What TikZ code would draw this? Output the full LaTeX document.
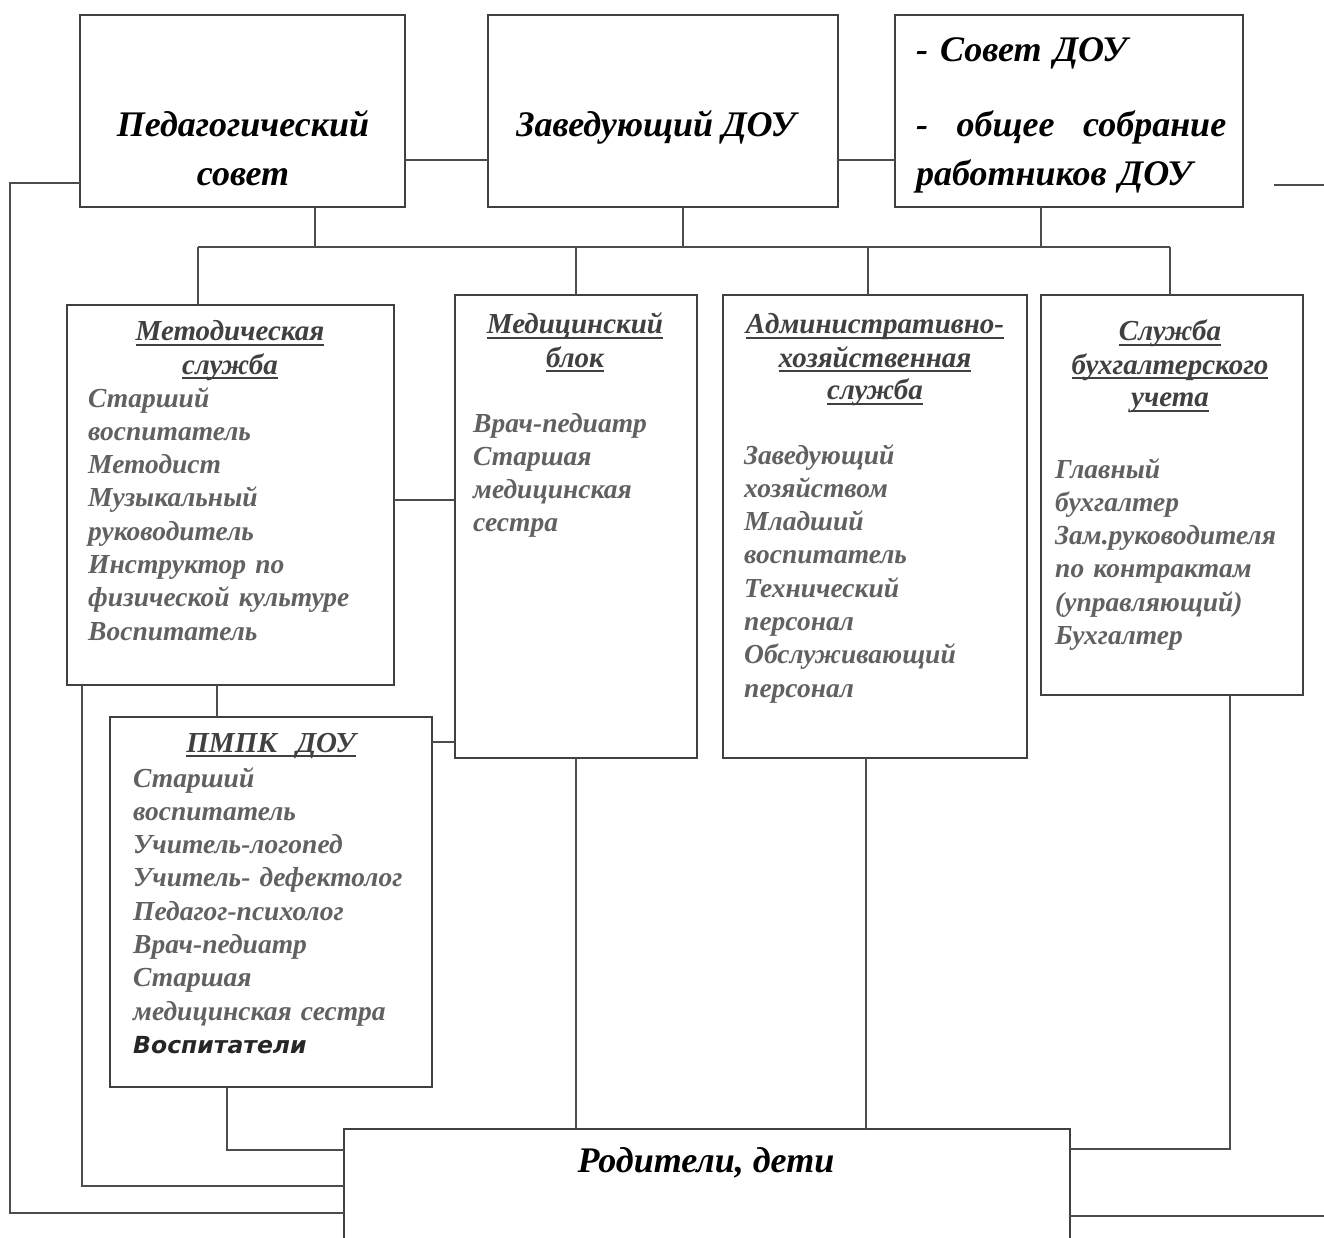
\documentclass[tikz,border=0pt]{standalone}
\usepackage{fontspec}
\setmainfont{Liberation Serif}
\newfontfamily\gothfont{DejaVu Sans}
\newcommand\myul[1]{\leavevmode\setbox0\hbox{#1}\rlap{\rule[-5pt]{\wd0}{2.4pt}}\box0}
\begin{document}
\begin{tikzpicture}[x=1pt,y=-1pt,
  box/.style={draw=black!75, line width=2.2pt, inner sep=0pt, outer sep=0pt},
  conn/.style={draw=black!70, line width=2pt},
  toptext/.style={inner sep=0pt, font=\fontsize{36}{49}\selectfont\bfseries\itshape, text=black},
  head/.style={inner sep=0pt, align=center, anchor=base, font=\fontsize{29}{33}\selectfont\bfseries\itshape, text=black!75},
  body/.style={inner sep=0pt, align=left, anchor=base west, font=\fontsize{27.5}{33.3}\selectfont\bfseries\itshape, text=black!62},
]
\fill[white] (0,0) rectangle (1324,1238);
\useasboundingbox (0,0) rectangle (1324,1238);

% boxes
\node[box, minimum width=325pt, minimum height=192pt] (ped) at (242.5,111) {};
\node[box, minimum width=350pt, minimum height=192pt] (zav) at (663,111) {};
\node[box, minimum width=348pt, minimum height=192pt] (sov) at (1069,111) {};
\node[box, minimum width=327pt, minimum height=380pt] (met) at (230.5,495) {};
\node[box, minimum width=242pt, minimum height=463pt] (med) at (576,526.5) {};
\node[box, minimum width=304pt, minimum height=463pt] (adm) at (875,526.5) {};
\node[box, minimum width=262pt, minimum height=400pt] (buh) at (1172,495) {};
\node[box, minimum width=322pt, minimum height=370pt] (pmpk) at (271,902) {};
\node[box, minimum width=726pt, minimum height=121pt] (rod) at (707,1189.5) {};

% top texts
\node[toptext, anchor=base, align=center, text width=300pt] (tped) at (243,137) {Педагогический\\совет};
\node[toptext, anchor=base] (tzav) at (656,137) {Заведующий ДОУ};
\node[toptext, anchor=base west, align=left, text width=312pt] (tsov) at (916,62)
  {- Совет ДОУ\\[26pt]\leavevmode\hbox to 310pt{-\hfill общее\hfill собрание}\\работников ДОУ};
\node[toptext, anchor=base] (trod) at (706,1172) {Родители, дети};

% headings
\node[head, text width=310pt] (hmet) at (230,341) {\myul{Методическая}\\\myul{служба}};
\node[head, text width=236pt] (hmed) at (575,334) {\myul{Медицинский}\\\myul{блок}};
\node[head, text width=298pt] (hadm) at (875,334) {\myul{Административно-}\\\myul{хозяйственная}\\\myul{служба}};
\node[head, text width=256pt] (hbuh) at (1170,341) {\myul{Служба}\\\myul{бухгалтерского}\\\myul{учета}};
\node[head, text width=300pt] (hpmpk) at (271,752) {\myul{ПМПК\ \ ДОУ}};

% bodies
\node[body, text width=300pt] (bmet) at (88,407) {Старший\\воспитатель\\Методист\\Музыкальный\\руководитель\\Инструктор по\\физической культуре\\Воспитатель};
\node[body, text width=220pt] (bmed) at (473,432) {Врач-педиатр\\Старшая\\медицинская\\сестра};
\node[body, text width=280pt] (badm) at (744,464) {Заведующий\\хозяйством\\Младший\\воспитатель\\Технический\\персонал\\Обслуживающий\\персонал};
\node[body, text width=245pt] (bbuh) at (1055,478) {Главный\\бухгалтер\\Зам.руководителя\\по контрактам\\(управляющий)\\Бухгалтер};
\node[body, text width=300pt] (bpmpk) at (133,787) {Старший\\воспитатель\\Учитель-логопед\\Учитель- дефектолог\\Педагог-психолог\\Врач-педиатр\\Старшая\\медицинская сестра\\{\gothfont\fontsize{23.5}{33.3}\selectfont\bfseries\itshape\color{black!85}Воспитатели}};

% connectors
\coordinate (hA) at (0,160);
\draw[conn] (ped.east |- hA) -- (zav.west |- hA);
\draw[conn] (zav.east |- hA) -- (sov.west |- hA);
\coordinate (frR1) at (1274,185);
\coordinate (frR2) at (1324,185);
\draw[conn] (frR1) -- (frR2);
\coordinate (outL) at (10,183);
\coordinate (outLb) at (10,1213);
\draw[conn] (ped.west |- outL) -- (outL) -- (outLb) -- (rod.west |- outLb);
\coordinate (busY) at (0,247);
\coordinate (sP) at (315,0);
\coordinate (sZ) at (683,0);
\coordinate (sS) at (1041,0);
\draw[conn] (sP |- ped.south) -- (sP |- busY);
\draw[conn] (sZ |- zav.south) -- (sZ |- busY);
\draw[conn] (sS |- sov.south) -- (sS |- busY);
\coordinate (dM) at (198,0);
\coordinate (dA) at (868,0);
\coordinate (dB) at (1170,0);
\draw[conn] (dM |- busY) -- (dB |- busY);
\draw[conn] (dM |- busY) -- (dM |- met.north);
\draw[conn] (med.north |- busY) -- (med.north);
\draw[conn] (dA |- busY) -- (dA |- adm.north);
\draw[conn] (dB |- busY) -- (dB |- buh.north);
\coordinate (hMM) at (0,500);
\draw[conn] (met.east |- hMM) -- (med.west |- hMM);
\coordinate (hPM) at (0,742);
\draw[conn] (pmpk.east |- hPM) -- (med.west |- hPM);
\coordinate (vMP) at (217,0);
\draw[conn] (vMP |- met.south) -- (vMP |- pmpk.north);
\coordinate (vML) at (82,1186);
\draw[conn] (vML |- met.south) -- (vML) -- (rod.west |- vML);
\coordinate (vPL) at (227,1150);
\draw[conn] (vPL |- pmpk.south) -- (vPL) -- (rod.west |- vPL);
\draw[conn] (med.south) -- (med.south |- rod.north);
\coordinate (vAd) at (866,0);
\draw[conn] (vAd |- adm.south) -- (vAd |- rod.north);
\coordinate (vBR) at (1230,1149);
\draw[conn] (vBR |- buh.south) -- (vBR) -- (rod.east |- vBR);
\coordinate (frR3) at (1324,1216);
\draw[conn] (rod.east |- frR3) -- (frR3);
\end{tikzpicture}
\end{document}
